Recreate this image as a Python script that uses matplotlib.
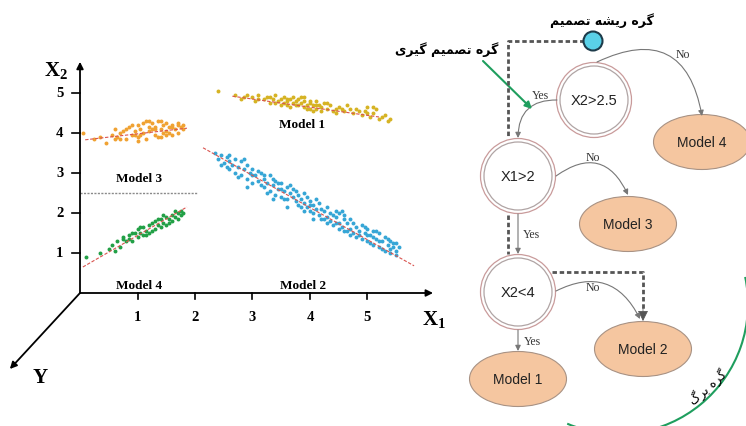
import matplotlib.pyplot as plt
from matplotlib.patches import Circle, Ellipse, Arc, FancyArrowPatch

# ---- scatter clusters (X1, X2) ----
orange_x = [0.05, 0.25, 0.35, 0.45, 0.55, 0.6, 0.65, 0.7, 0.75, 0.8, 0.85, 0.9, 0.95, 1.0, 1.0,
            1.05, 1.1, 1.1, 1.15, 1.2, 1.2, 1.25, 1.3, 1.3, 1.35, 1.4, 1.4, 1.45, 1.5, 1.5,
            1.55, 1.6, 1.6, 1.65, 1.7, 1.7, 1.75, 1.8, 0.9, 1.0, 1.15, 1.35, 1.55, 1.25, 0.7,
            0.6, 0.8, 1.05, 1.2, 1.4, 1.45, 1.6, 1.7, 1.8, 1.5, 1.3, 0.95]
orange_y = [4.0, 3.85, 3.9, 3.75, 3.95, 4.1, 3.9, 4.0, 4.05, 3.85, 4.15, 3.95, 4.05, 4.2, 3.9,
            4.1, 4.0, 4.25, 3.85, 4.15, 4.05, 4.25, 3.95, 4.15, 4.3, 4.1, 3.9, 4.2, 4.05, 4.25,
            4.15, 3.95, 4.2, 4.1, 4.25, 4.0, 4.15, 4.1, 4.2, 3.8, 4.3, 3.9, 4.0, 4.1, 3.85,
            3.85, 4.1, 3.95, 4.3, 4.3, 4.0, 4.15, 4.2, 4.2, 3.95, 4.1, 3.95]

green_x = [0.1, 0.35, 0.55, 0.65, 0.7, 0.75, 0.8, 0.85, 0.9, 0.95, 1.0, 1.0, 1.05, 1.1, 1.1,
           1.15, 1.2, 1.2, 1.25, 1.3, 1.3, 1.35, 1.4, 1.4, 1.45, 1.5, 1.5, 1.55, 1.6, 1.6,
           1.65, 1.7, 1.75, 1.8, 0.6, 0.9, 1.25, 1.45, 1.65, 0.75,
           0.5, 0.85, 1.05, 1.15, 1.35, 1.55, 1.7, 1.75]
green_y = [0.9, 1.0, 1.2, 1.3, 1.15, 1.35, 1.3, 1.45, 1.3, 1.5, 1.4, 1.6, 1.5, 1.65, 1.45,
           1.55, 1.7, 1.5, 1.75, 1.6, 1.8, 1.7, 1.85, 1.65, 1.75, 1.9, 1.7, 1.85, 1.95, 1.8,
           1.9, 2.0, 1.95, 2.0, 1.05, 1.5, 1.55, 1.95, 2.05, 1.4,
           1.1, 1.35, 1.65, 1.45, 1.85, 1.75, 1.85, 2.05]

yellow_x = [2.4, 2.7, 2.8, 2.9, 3.0, 3.05, 3.1, 3.2, 3.25, 3.3, 3.35, 3.4, 3.45, 3.5, 3.5,
            3.55, 3.6, 3.6, 3.65, 3.7, 3.7, 3.75, 3.8, 3.8, 3.85, 3.9, 3.9, 3.95, 4.0, 4.0,
            4.05, 4.1, 4.1, 4.15, 4.2, 4.25, 4.3, 4.35, 4.4, 4.5, 4.6, 4.65, 4.75, 4.8, 4.9,
            4.95, 5.0, 5.05, 5.1, 5.15, 5.2, 5.3, 5.35, 3.4, 3.65, 3.9, 4.05, 4.45,
            3.1, 3.3, 3.55, 3.75, 3.85, 3.95, 4.1, 4.2, 4.3, 4.55, 4.7, 4.85, 5.0, 5.25,
            5.4, 2.85, 3.6, 4.0, 4.45, 5.1]
yellow_y = [5.05, 4.95, 4.85, 4.95, 4.9, 4.8, 4.95, 4.85, 4.9, 4.75, 4.85, 4.95, 4.8, 4.85, 4.7,
            4.9, 4.8, 4.7, 4.85, 4.75, 4.9, 4.8, 4.7, 4.85, 4.75, 4.65, 4.8, 4.7, 4.75, 4.6,
            4.7, 4.8, 4.6, 4.7, 4.65, 4.75, 4.6, 4.7, 4.55, 4.65, 4.55, 4.7, 4.5, 4.6, 4.45,
            4.55, 4.65, 4.4, 4.5, 4.6, 4.35, 4.45, 4.3, 4.75, 4.65, 4.9, 4.55, 4.6,
            4.85, 4.9, 4.75, 4.7, 4.9, 4.6, 4.7, 4.55, 4.75, 4.6, 4.6, 4.55, 4.5, 4.4,
            4.35, 4.9, 4.85, 4.8, 4.5, 4.65]

blue_x = [2.35, 2.4, 2.45, 2.5, 2.55, 2.55, 2.6, 2.65, 2.7, 2.7, 2.75, 2.8, 2.8, 2.85, 2.9,
          2.9, 2.95, 3.0, 3.0, 3.05, 3.1, 3.15, 3.2, 3.2, 3.25, 3.3, 3.3, 3.35, 3.4, 3.4,
          3.45, 3.5, 3.5, 3.55, 3.6, 3.6, 3.65, 3.7, 3.7, 3.75, 3.8, 3.8, 3.85, 3.9, 3.9,
          3.95, 4.0, 4.0, 4.05, 4.1, 4.1, 4.15, 4.2, 4.2, 4.25, 4.3, 4.3, 4.35, 4.4, 4.4,
          4.45, 4.5, 4.5, 4.55, 4.6, 4.6, 4.65, 4.7, 4.7, 4.75, 4.8, 4.8, 4.85, 4.9, 4.9,
          4.95, 5.0, 5.0, 5.05, 5.1, 5.1, 5.15, 5.2, 5.2, 5.25, 5.3, 5.3, 5.35, 5.4, 5.4,
          5.45, 5.5, 5.5, 3.6, 3.35, 4.05, 2.9, 4.55,
          2.45, 2.6, 2.75, 2.85, 3.0, 3.1, 3.15, 3.25, 3.35, 3.45, 3.55, 3.65, 3.75, 3.85,
          3.95, 4.0, 4.05, 4.15, 4.25, 4.35, 4.45, 4.5, 4.6, 4.65, 4.75, 4.85, 4.95, 5.0,
          5.05, 5.15, 5.2, 5.25, 5.35, 5.4, 5.45, 5.5, 5.55, 3.9, 4.3, 4.7, 5.1, 3.5, 3.2,
          2.6, 4.45]
blue_y = [3.5, 3.35, 3.45, 3.25, 3.4, 3.15, 3.3, 3.2, 3.35, 3.0, 3.15, 3.3, 2.95, 3.1, 3.2,
          2.85, 3.0, 3.1, 2.75, 2.95, 2.8, 3.0, 2.65, 2.85, 2.75, 2.95, 2.55, 2.7, 2.8, 2.45,
          2.6, 2.75, 2.4, 2.55, 2.65, 2.35, 2.5, 2.4, 2.6, 2.3, 2.45, 2.2, 2.35, 2.25, 2.5,
          2.15, 2.3, 2.05, 2.2, 2.1, 2.35, 1.95, 2.1, 1.85, 2.05, 1.9, 2.15, 1.8, 1.95, 1.7,
          1.9, 1.75, 2.0, 1.65, 1.85, 1.55, 1.75, 1.6, 1.85, 1.5, 1.65, 1.4, 1.55, 1.7, 1.35,
          1.5, 1.6, 1.3, 1.45, 1.2, 1.55, 1.35, 1.5, 1.15, 1.3, 1.05, 1.4, 1.2, 1.0, 1.3,
          1.15, 1.25, 0.95, 2.15, 2.35, 1.85, 2.65, 2.05,
          3.2, 3.45, 2.9, 3.35, 2.95, 3.05, 2.7, 2.5, 2.85, 2.75, 2.35, 2.7, 2.55, 2.15,
          2.4, 2.2, 2.0, 2.25, 1.85, 2.0, 1.75, 1.6, 1.95, 1.55, 1.75, 1.45, 1.65, 1.45,
          1.25, 1.55, 1.3, 1.1, 1.35, 1.1, 1.25, 1.05, 1.15, 2.05, 1.75, 1.45, 1.4, 2.6, 2.95,
          3.1, 2.05]

# fitted lines (start, end)
fit_lines = {
    'orange': ([0.09, 1.86], [3.83, 4.12]),
    'green': ([0.05, 1.86], [0.65, 2.15]),
    'yellow': ([2.65, 5.2], [4.92, 4.4]),
    'blue': ([2.14, 5.81], [3.63, 0.68]),
}

ticks = [1, 2, 3, 4, 5]
split_x2 = 2.5

# ---- Persian text shaping (presentation forms, visual order) ----
FORMS = {
    'گ': ('\uFB92', '\uFB93', '\uFB94', '\uFB95'),
    'ی': ('\uFBFC', '\uFBFD', '\uFBFE', '\uFBFF'),
    'ر': ('\uFEAD', '\uFEAE', None, None),
    'ه': ('\uFEE9', '\uFEEA', '\uFEEB', '\uFEEC'),
    'ش': ('\uFEB5', '\uFEB6', '\uFEB7', '\uFEB8'),
    'ت': ('\uFE95', '\uFE96', '\uFE97', '\uFE98'),
    'ص': ('\uFEB9', '\uFEBA', '\uFEBB', '\uFEBC'),
    'م': ('\uFEE1', '\uFEE2', '\uFEE3', '\uFEE4'),
    'ب': ('\uFE8F', '\uFE90', '\uFE91', '\uFE92'),
}


def shape(s):
    out = []
    for i, ch in enumerate(s):
        if ch not in FORMS:
            out.append(ch)
            continue
        prev = s[i - 1] if i > 0 else ''
        nxt = s[i + 1] if i + 1 < len(s) else ''
        jp = prev in FORMS and FORMS[prev][2] is not None
        jn = nxt in FORMS and FORMS[ch][2] is not None
        k = 3 if (jp and jn) else 1 if jp else 2 if jn else 0
        out.append(FORMS[ch][k])
    return ''.join(reversed(out))


fig = plt.figure(figsize=(7.46, 4.27), dpi=100)

# tree diagram in pixel coordinates
at = fig.add_axes([0, 0, 1, 1])
at.set_xlim(0, 746)
at.set_ylim(427, 0)
at.axis('off')

# left scatter chart in data coordinates
ax = fig.add_axes([0.00704, 0.10539, 0.6012, 0.76815])
ax.set_xlim(-1.3, 6.5)
ax.set_ylim(-2.2, 6.0)
ax.axis('off')

serif = 'Liberation Serif'
sans = 'Liberation Sans'

ax.scatter(orange_x, orange_y, s=8, color='#f0a232', linewidths=0, zorder=3)
ax.scatter(green_x, green_y, s=8, color='#22a046', linewidths=0, zorder=3)
ax.scatter(yellow_x, yellow_y, s=8, color='#d6b324', linewidths=0, zorder=3)
ax.scatter(blue_x, blue_y, s=8, color='#36a6d6', linewidths=0, zorder=3)
for xs, ys in fit_lines.values():
    ax.plot(xs, ys, color='#d9544f', lw=0.8, ls=(0, (3, 1.5)), zorder=4)

ax.plot([0, 2.05], [split_x2, split_x2], color='#8a8a8a', lw=1.0, ls=(0, (1.5, 1)))

arr = dict(arrowstyle='-|>', color='k', lw=1.3, mutation_scale=10, shrinkA=0, shrinkB=0)
ax.annotate('', xy=(0, 5.78), xytext=(0, 0), arrowprops=arr)
ax.annotate('', xy=(6.14, 0), xytext=(0, 0), arrowprops=arr)
ax.annotate('', xy=(-1.22, -1.9), xytext=(0, 0), arrowprops=arr)

for t in ticks:
    ax.plot([-0.14, 0], [t, t], color='k', lw=1.2)
    ax.plot([t, t], [0, -0.15], color='k', lw=1.2)
    ax.text(-0.35, t, str(t), ha='center', va='center', fontsize=10.5,
            fontweight='bold', family=serif)
    ax.text(t, -0.58, str(t), ha='center', va='center', fontsize=10.5,
            fontweight='bold', family=serif)

plt.rcParams['mathtext.fontset'] = 'custom'
plt.rcParams['mathtext.bf'] = 'Liberation Serif:bold'
plt.rcParams['mathtext.rm'] = 'Liberation Serif'
ax.text(-0.42, 5.58, r'$\mathbf{X_2}$', ha='center', va='center', fontsize=15)
ax.text(6.16, -0.65, r'$\mathbf{X_1}$', ha='center', va='center', fontsize=15)
ax.text(-0.7, -2.1, 'Y', ha='center', va='center', fontsize=15, fontweight='bold', family=serif)

for lbl, x, y in [('Model 1', 3.86, 4.22), ('Model 3', 1.03, 2.88),
                  ('Model 4', 1.03, 0.2), ('Model 2', 3.88, 0.2)]:
    ax.text(x, y, lbl, ha='center', va='center', fontsize=9.5, fontweight='bold', family=serif)

# ---- tree ----
nodes = {'X2>2.5': (594, 101), 'X1>2': (518, 177), 'X2<4': (518, 293)}
for lbl, (cx, cy) in nodes.items():
    at.add_patch(Circle((cx, cy), 37.5, fill=False, ec='#c99b9b', lw=0.9))
    at.add_patch(Circle((cx, cy), 34, fill=False, ec='#b0a4a4', lw=0.9))
    at.text(cx, cy, lbl, ha='center', va='center', fontsize=10.5, family=sans, color='#222')

leaves = {'Model 4': (702, 143), 'Model 3': (628, 225), 'Model 2': (643, 350), 'Model 1': (518, 380)}
for lbl, (cx, cy) in leaves.items():
    at.add_patch(Ellipse((cx, cy), 97, 55, fc='#f5c6a0', ec='#a89284', lw=0.8))
    at.text(cx, cy, lbl, ha='center', va='center', fontsize=10, family=sans, color='#222')

# root node and dashed path
at.plot([584, 508, 508], [42, 42, 139], color='#555555', lw=2, ls=(0, (1.6, 1.0)))
at.plot([508, 508], [216, 255], color='#555555', lw=2, ls=(0, (1.6, 1.0)))
at.plot([552, 643, 643], [273, 273, 312], color='#555555', lw=2, ls=(0, (1.6, 1.0)))
at.add_patch(FancyArrowPatch((643, 308), (643, 322), arrowstyle='-|>', mutation_scale=16,
                             color='#555555', lw=0.5, shrinkA=0, shrinkB=0))
at.add_patch(Circle((593, 42), 9.5, fc='#5ad1e8', ec='#1d3b4a', lw=1.5, zorder=5))

edge = dict(arrowstyle='-|>', mutation_scale=8, color='#777777', lw=0.8, shrinkA=0, shrinkB=0)
at.add_patch(FancyArrowPatch((597, 63), (702, 117), connectionstyle='arc3,rad=-0.65', **edge))
at.add_patch(FancyArrowPatch((557, 101), (518, 139), connectionstyle='arc3,rad=0.5', **edge))
at.add_patch(FancyArrowPatch((556, 177), (628, 196), connectionstyle='arc3,rad=-0.6', **edge))
at.add_patch(FancyArrowPatch((518, 215), (518, 255), **edge))
at.add_patch(FancyArrowPatch((556, 292), (640, 320), connectionstyle='arc3,rad=-0.5', **edge))
at.add_patch(FancyArrowPatch((518, 331), (518, 352), **edge))

for lbl, x, y in [('No', 683, 55), ('Yes', 540, 96), ('No', 593, 158), ('Yes', 531, 235),
                  ('No', 593, 288), ('Yes', 532, 342)]:
    at.text(x, y, lbl, ha='center', va='center', fontsize=8.5, family=serif, color='#333')

# green annotations
at.add_patch(FancyArrowPatch((483, 62), (532, 110), arrowstyle='-|>', mutation_scale=10,
                             color='#1f9e5e', lw=1.5, shrinkA=0, shrinkB=0))
at.add_patch(Arc((618, 305), 260, 260, theta1=-12, theta2=113, color='#1f9e5e', lw=1.5))

fa = ['DejaVu Sans']
at.text(602, 21, shape('گره ریشه تصمیم'), ha='center', va='center', fontsize=9,
        fontweight='bold', family=fa)
at.text(447, 50, shape('گره تصمیم گیری'), ha='center', va='center', fontsize=9,
        fontweight='bold', family=fa)
at.text(708, 387, shape('گره برگ'), ha='center', va='center', fontsize=9,
        rotation=42, family=fa)

fig.savefig('out.png', dpi=100)
